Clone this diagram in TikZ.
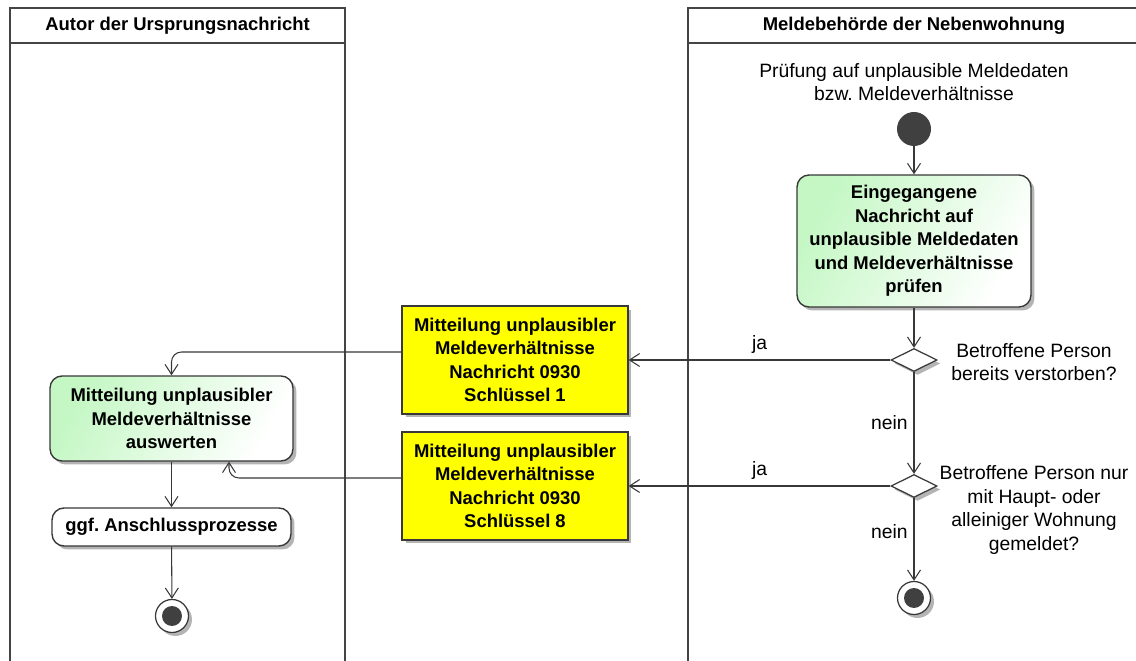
\documentclass[tikz,border=0pt]{standalone}
\usepackage{fontspec}
\setmainfont{Liberation Sans}
\usetikzlibrary{arrows.meta,positioning,shapes.geometric,shadows}
\definecolor{Ink}{HTML}{383838}
\definecolor{Lane}{HTML}{444444}
\definecolor{Mint}{HTML}{C4F7C4}
\definecolor{Note}{HTML}{FFFF00}
\definecolor{Dot}{HTML}{404040}
\definecolor{Shade}{HTML}{B4B4B4}

\begin{document}
\begin{tikzpicture}[x=0.02cm,y=-0.02cm,every node/.style={font=\fontsize{11}{13.4}\selectfont,text=black,align=center},lane/.style={draw=Lane,line width=1.1pt},head/.style={font=\bfseries\fontsize{10.5}{13.4}\selectfont},shade/.style={drop shadow={shadow xshift=0.07cm,shadow yshift=-0.07cm,fill=Shade,opacity=1}},act/.style={draw=Ink,fill=white,line width=0.8pt,rounded corners=0.24cm,inner sep=2pt,font=\bfseries\fontsize{10.5}{13.4}\selectfont,shade},mint/.style={left color=Mint,right color=white,shading angle=60},msg/.style={draw=Ink,fill=Note,line width=0.8pt,minimum width=4.52cm,minimum height=2.16cm,font=\bfseries\fontsize{10.5}{13.4}\selectfont,shade},decision/.style={diamond,draw=Ink,fill=white,line width=0.7pt,minimum width=0.92cm,minimum height=0.46cm,inner sep=0pt,shade},startdot/.style={circle,fill=Dot,minimum size=0.68cm,inner sep=0pt},stopdot/.style={circle,draw=Ink,fill=white,line width=0.7pt,minimum size=0.66cm,inner sep=0pt,shade,path picture={\fill[Dot] (path picture bounding box.center) circle (0.2cm);}},arrow/.style={-{Straight Barb[length=2mm,width=2.6mm]},draw=Ink,line width=0.6pt}]
\useasboundingbox (0,0) rectangle (1136,661);
\clip (0,0) rectangle (1136,661);
% swimlanes
\draw[lane] (10,670) -- (10,8) -- (345,8) -- (345,670);
\draw[lane] (10,43) -- (345,43);
\draw[lane] (688,670) -- (688,8) -- (1150,8);
\draw[lane] (688,43) -- (1150,43);
\node[head] (hleft) at (177.5,25.5) {Autor der Ursprungsnachricht};
\node[head] (hright) at (914,25.5) {Meldebehörde der Nebenwohnung};
% Meldebehoerde
\node (title) at (914,82) {Prüfung auf unplausible Meldedaten\\bzw.\ Meldeverhältnisse};
\node[startdot] (start) at (914,129) {};
\node[act,mint,minimum width=4.68cm,minimum height=2.64cm] (check) at (914,241) {Eingegangene\\Nachricht auf\\unplausible Meldedaten\\und Meldeverhältnisse\\prüfen};
\node[decision] (d1) at (914,360) {};
\node (q1) at (1034,362) {Betroffene Person\\bereits verstorben?};
\node[decision] (d2) at (914,486) {};
\node (q2) at (1034,510) {Betroffene Person nur\\mit Haupt- oder\\alleiniger Wohnung\\gemeldet?};
\node[stopdot] (stop2) at (914,598) {};
% Nachrichten
\node[msg] (m1) at (515,360) {Mitteilung unplausibler\\Meldeverhältnisse\\Nachricht 0930\\Schlüssel 1};
\node[msg] (m2) at (515,486) {Mitteilung unplausibler\\Meldeverhältnisse\\Nachricht 0930\\Schlüssel 8};
% Autor
\node[act,mint,minimum width=4.86cm,minimum height=1.7cm] (eval) at (171.5,418.5) {Mitteilung unplausibler\\Meldeverhältnisse\\auswerten};
\node[act,minimum width=4.78cm,minimum height=0.76cm] (next) at (171.5,527) {ggf.\ Anschlussprozesse};
\node[stopdot] (stop1) at (172,616) {};
% connectors
\draw[arrow] (start) -- (check);
\draw[arrow] (check) -- (d1);
\draw[arrow] (d1.west) -- node[above] (ja1) {ja} (m1.east);
\draw[arrow] (d1) -- node[left] (nein1) {nein} (d2);
\draw[arrow] (d2.west) -- node[above] (ja2) {ja} (m2.east);
\draw[arrow] (d2) -- node[left,pos=.4] (nein2) {nein} (stop2);
\draw[arrow,rounded corners=0.2cm] ([yshift=0.16cm]m1.west) -| (eval.north);
\draw[arrow,rounded corners=0.2cm] ([yshift=0.16cm]m2.west) -| ([xshift=1.15cm]eval.south);
\draw[arrow] (eval) -- (next);
\draw[arrow] (next) -- (stop1);
\end{tikzpicture}
\end{document}
